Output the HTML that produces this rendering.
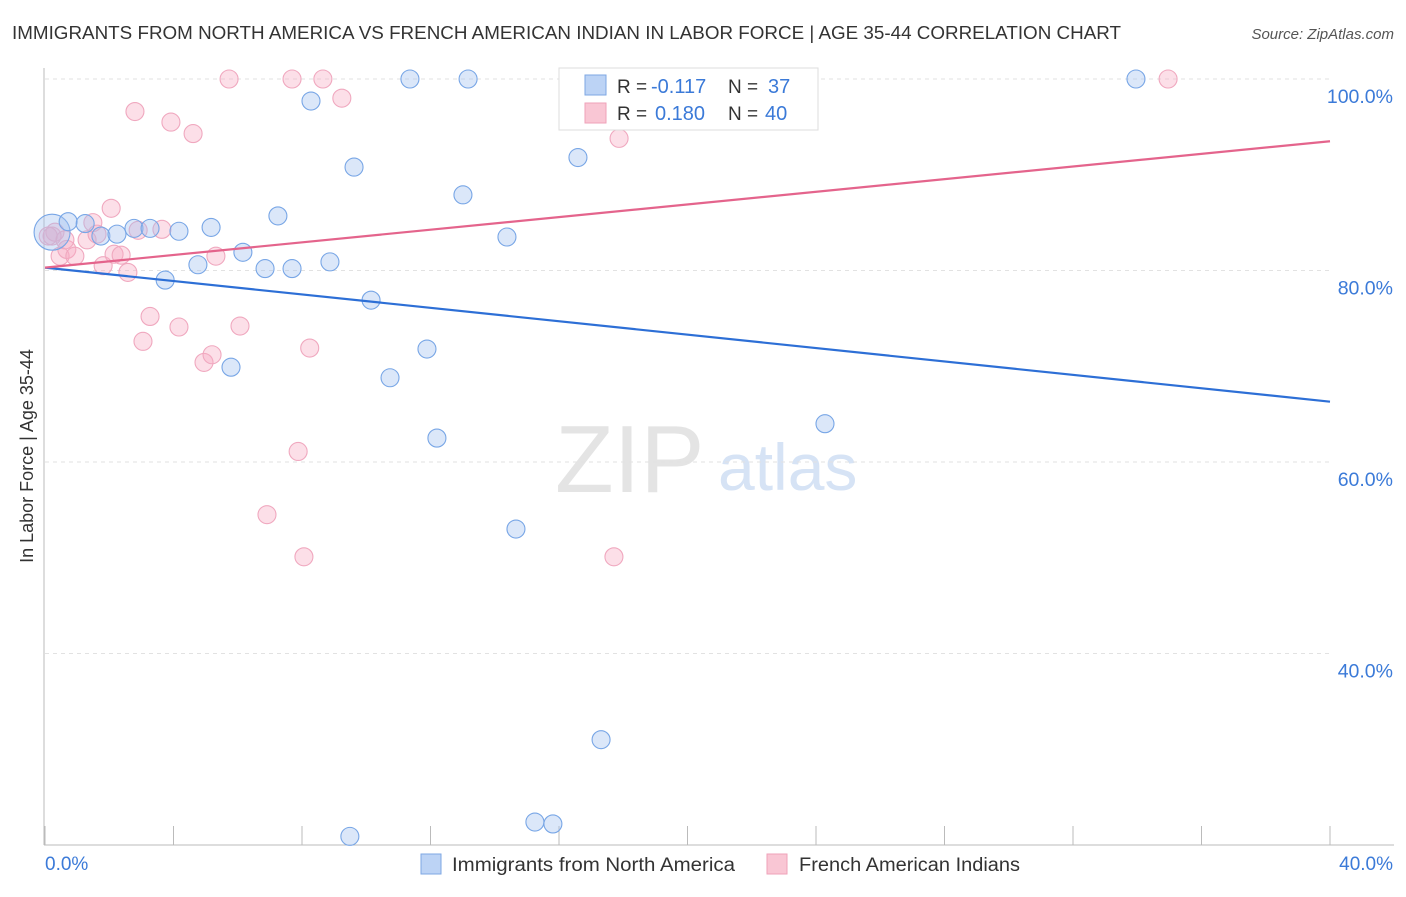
<!DOCTYPE html>
<html><head><meta charset="utf-8"><style>
body{margin:0;background:#fff;font-family:"Liberation Sans",sans-serif;}
svg text{font-family:"Liberation Sans",sans-serif;}
</style></head><body>
<svg id="c" width="1406" height="892">
<text x="12" y="39" font-size="18" fill="#333" textLength="1109" lengthAdjust="spacingAndGlyphs">IMMIGRANTS FROM NORTH AMERICA VS FRENCH AMERICAN INDIAN IN LABOR FORCE | AGE 35-44 CORRELATION CHART</text>
<text x="1394" y="39" font-size="15" fill="#555" text-anchor="end" font-style="italic">Source: ZipAtlas.com</text>
<text x="33" y="456" font-size="18" fill="#333" text-anchor="middle" transform="rotate(-90 33 456)">In Labor Force | Age 35-44</text>
<text x="555" y="492" font-size="96" fill="#e4e4e4" font-family="Liberation Serif">ZIP</text>
<text x="718" y="490" font-size="66" fill="#d6e3f5">atlas</text>
<g id="grid"></g><g id="pts"></g><g id="lines"></g>
<g>
<rect x="559" y="68" width="259" height="62" fill="#fff" stroke="#ddd"/>
<rect x="585" y="75" width="21" height="20" fill="#bcd3f5" stroke="#7ea7e3"/>
<rect x="585" y="103" width="21" height="20" fill="#f9c6d4" stroke="#efa2b9"/>
<text x="617" y="93" font-size="19" fill="#333">R =</text>
<text x="651" y="93" font-size="20" fill="#3b7ad8">-0.117</text>
<text x="728" y="93" font-size="19" fill="#333">N =</text>
<text x="768" y="93" font-size="20" fill="#3b7ad8">37</text>
<text x="617" y="120" font-size="19" fill="#333">R =</text>
<text x="655" y="120" font-size="20" fill="#3b7ad8">0.180</text>
<text x="728" y="120" font-size="19" fill="#333">N =</text>
<text x="765" y="120" font-size="20" fill="#3b7ad8">40</text>
</g>
<g>
<rect x="421" y="854" width="20" height="20" fill="#bcd3f5" stroke="#7ea7e3"/>
<text x="452" y="871" font-size="19" fill="#333" textLength="283" lengthAdjust="spacingAndGlyphs">Immigrants from North America</text>
<rect x="767" y="854" width="20" height="20" fill="#f9c6d4" stroke="#efa2b9"/>
<text x="799" y="871" font-size="19" fill="#333" textLength="221" lengthAdjust="spacingAndGlyphs">French American Indians</text>
</g>
<text x="45" y="870" font-size="19" fill="#3b7ad8">0.0%</text>
<text x="1393" y="870" font-size="19" fill="#3b7ad8" text-anchor="end">40.0%</text>
</svg>
<script>
const blueX=[0.22,0.72,1.25,1.74,2.24,2.77,3.27,4.17,5.17,4.76,3.74,6.16,6.85,7.69,7.25,8.28,8.87,9.62,10.15,11.36,13.17,13.01,10.74,11.89,12.2,14.38,14.66,16.59,17.31,15.25,15.81,9.49,5.79,20.8,24.28,33.96,16.97];
const blueY=[84.0,85.1,84.9,83.6,83.8,84.4,84.4,84.1,84.5,80.6,79.0,81.9,80.2,80.2,85.7,97.7,80.9,90.8,76.9,100,100,87.9,68.8,71.8,62.5,83.5,53.0,91.8,31.0,22.4,22.2,20.9,69.9,100,64.0,100,99.7];
const pinkX=[0.22,0.31,0.47,0.68,0.93,1.31,1.49,1.62,1.81,2.06,2.15,2.37,2.58,2.9,2.8,3.64,3.27,3.05,3.92,4.17,4.61,4.95,5.2,5.32,5.73,6.07,6.91,7.69,7.88,8.06,8.24,8.65,9.24,17.71,17.87,23.66,34.96,16.97,0.62,0.1];
const pinkY=[83.6,84.0,81.5,82.2,81.5,83.2,85.0,83.8,80.5,86.5,81.7,81.6,79.8,84.2,96.6,84.3,75.2,72.6,95.5,74.1,94.3,70.4,71.2,81.5,100,74.2,54.5,100,61.1,50.1,71.9,100,98.0,50.1,93.8,97.4,100,100,83.2,83.6];
const blueTrend=[80.3,66.3];
const pinkTrend=[80.3,93.5];
const yTicks=[100,80,60,40];
const xTicks=[0,4,8,12,16,20,24,28,32,36,40];
const NS='http://www.w3.org/2000/svg';
const sx=v=>45+v/40*1285, sy=v=>79+(100-v)/20*191.5;
function mk(t,a,p){const e=document.createElementNS(NS,t);for(const k in a)e.setAttribute(k,a[k]);p.appendChild(e);return e;}
const g=document.getElementById('grid');
yTicks.forEach(v=>{
 const l=mk('line',{x1:45,x2:1330,y1:sy(v),y2:sy(v),stroke:'#e2e2e2','stroke-dasharray':'4,4'},g);
 
 
 const t=mk('text',{x:1393,y:sy(v)+24,'font-size':19.5,fill:'#3b7ad8','text-anchor':'end'},g);t.textContent=v.toFixed(1)+'%';
 
 
});
const ax=mk('line',{x1:44,x2:44,y1:68,y2:845,stroke:'#bbb'},g);


const bx=mk('line',{x1:44,x2:1394,y1:845,y2:845,stroke:'#bbb'},g);


xTicks.forEach(v=>{const t=mk('line',{x1:sx(v),x2:sx(v),y1:826,y2:845,stroke:'#bbb'},g);
 
 });
const p=document.getElementById('pts');
function pts(X,Y,fill,stroke,name){X.forEach((x,i)=>{const c=mk('circle',{cx:sx(x),cy:sy(Y[i]),r:i===0&&name==='blue-point'?18:9,fill:fill,stroke:stroke,'stroke-width':1.1},p);
 
 });}
pts(pinkX,pinkY,'rgba(246,170,195,0.38)','#f0a8bf','pink-point');
pts(blueX,blueY,'rgba(160,192,240,0.38)','#78a6e6','blue-point');
const L=document.getElementById('lines');
const b=mk('line',{x1:sx(0),x2:sx(40),y1:sy(blueTrend[0]),y2:sy(blueTrend[1]),stroke:'#2d6fd6','stroke-width':2.2},L);


const pk=mk('line',{x1:sx(0),x2:sx(40),y1:sy(pinkTrend[0]),y2:sy(pinkTrend[1]),stroke:'#e4648c','stroke-width':2.2},L);


</script>
</body></html>
